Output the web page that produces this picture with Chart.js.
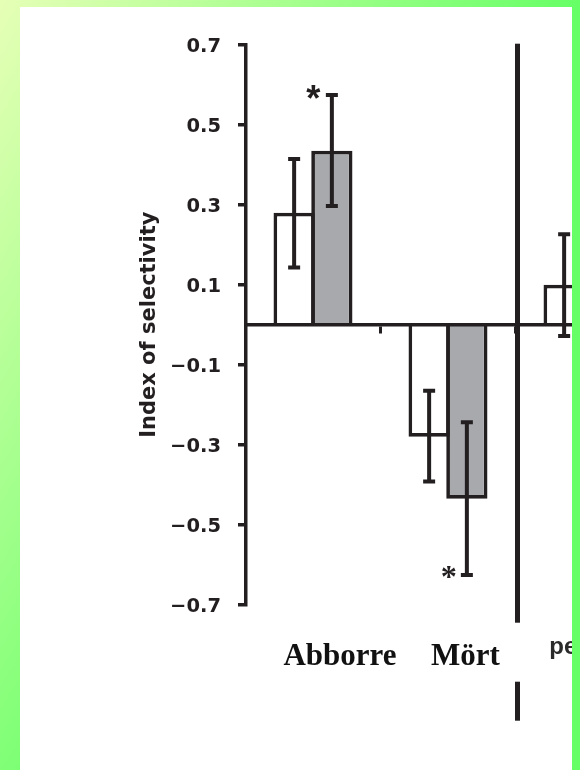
<!DOCTYPE html>
<html>
<head>
<meta charset="utf-8">
<script src="https://cdn.jsdelivr.net/npm/chart.js@4.4.1/dist/chart.umd.min.js"></script>
<style>
  html, body { margin: 0; padding: 0; }
  body {
    width: 580px; height: 770px; overflow: hidden; position: relative;
    background: linear-gradient(121deg, #e6ffb6 0%, #66ff66 56%, #66ff66 100%);
  }
  #panel {
    position: absolute; left: 20px; top: 7px; width: 552px; height: 763px;
    background: #ffffff; overflow: hidden;
  }
  #chart { position: absolute; left: -20px; top: -7px; }
</style>
</head>
<body>
<div id="panel"><canvas id="chart" width="660" height="770"></canvas></div>
<script>
// Fish groups along the x axis
const categories = ['Abborre', 'Mört', 'perch'];

// Open (white) bars: mean index with lower / upper error limits
const openValues = [0.28, -0.28, 0.10];
const openLow    = [0.143, -0.392, -0.028];
const openHigh   = [0.414, -0.165, 0.226];

// Shaded (grey) bars: mean index with lower / upper error limits
const shadedValues = [0.435, -0.435, null];
const shadedLow    = [0.297, -0.626, null];
const shadedHigh   = [0.574, -0.244, null];
const shadedSignif = ['*', '*', ''];

// Y axis
const yTickLabels = ['−0.7', '−0.5', '−0.3', '−0.1', '0.1', '0.3', '0.5', '0.7'];
const yTitle = 'Index of selectivity';

const INK = '#231f20';

// Error bars, significance stars, the panel divider and the group names
const decorPlugin = {
  id: 'decor',
  afterDatasetsDraw(chart) {
    const ctx = chart.ctx;
    const xs = chart.scales.x, ys = chart.scales.y;
    const area = chart.chartArea;

    const sets = [[0, openLow, openHigh], [1, shadedLow, shadedHigh]];
    ctx.save();
    ctx.strokeStyle = INK;
    ctx.lineWidth = 4;
    sets.forEach(([di, lo, hi]) => {
      chart.getDatasetMeta(di).data.forEach((bar, i) => {
        if (lo[i] == null || hi[i] == null) return;
        const cx = bar.x;
        const y1 = ys.getPixelForValue(lo[i]);
        const y2 = ys.getPixelForValue(hi[i]);
        ctx.beginPath();
        ctx.moveTo(cx, y1); ctx.lineTo(cx, y2);
        ctx.moveTo(cx - 6, y1); ctx.lineTo(cx + 6, y1);
        ctx.moveTo(cx - 6, y2); ctx.lineTo(cx + 6, y2);
        ctx.stroke();
      });
    });

    // significance stars beside the outer end of the shaded error bars
    const starFonts = ['"Liberation Sans"', '"Liberation Serif"'];
    chart.getDatasetMeta(1).data.forEach((bar, i) => {
      const mark = shadedSignif[i];
      if (!mark || shadedValues[i] == null) return;
      const end = shadedValues[i] >= 0 ? shadedHigh[i] : shadedLow[i];
      const ty = ys.getPixelForValue(end) - 3.5;
      const tx = bar.x - 18;
      const fam = starFonts[i % starFonts.length];
      ctx.font = 'bold 40px ' + fam;
      let m = ctx.measureText(mark);
      const gw = m.actualBoundingBoxLeft + m.actualBoundingBoxRight;
      const size = 40 * 14.5 / gw;
      ctx.font = 'bold ' + size.toFixed(1) + 'px ' + fam;
      m = ctx.measureText(mark);
      ctx.fillStyle = INK;
      ctx.textAlign = 'left';
      ctx.textBaseline = 'alphabetic';
      const w = m.actualBoundingBoxLeft + m.actualBoundingBoxRight;
      const h = m.actualBoundingBoxAscent + m.actualBoundingBoxDescent;
      ctx.fillText(mark, tx - w / 2 + m.actualBoundingBoxLeft, ty - h / 2 + m.actualBoundingBoxAscent);
    });

    // heavy divider between the two panels
    const bx = (xs.getPixelForValue(1) + xs.getPixelForValue(2)) / 2 + 2;
    ctx.fillStyle = INK;
    ctx.fillRect(bx - 2.5, area.top - 1, 5, area.bottom + 18 - area.top + 1);
    ctx.fillRect(bx - 2.5, area.bottom + 77, 5, 39);

    // group names under the bars
    const labelStyle = [
      { font: 'bold 31px "Liberation Serif"', color: '#111111', dx: 27, align: 'center', dy: 60.3 },
      { font: 'bold 31px "Liberation Serif"', color: '#111111', dx: 17.5, align: 'center', dy: 60.3 },
      { font: 'bold 24px "Liberation Sans"', color: '#2b2b2b', dx: -33.7, align: 'left', dy: 49 }
    ];
    categories.forEach((name, i) => {
      const st = labelStyle[i];
      ctx.font = st.font;
      ctx.fillStyle = st.color;
      ctx.textAlign = st.align;
      ctx.textBaseline = 'alphabetic';
      ctx.fillText(name, xs.getPixelForValue(i) + st.dx, area.bottom + st.dy);
    });
    ctx.restore();
  }
};

new Chart(document.getElementById('chart'), {
  type: 'bar',
  data: {
    labels: categories,
    datasets: [
      {
        label: 'open',
        data: openValues,
        backgroundColor: '#ffffff',
        borderColor: INK,
        borderWidth: 3.7,
        categoryPercentage: 0.559,
        barPercentage: 1.093
      },
      {
        label: 'shaded',
        data: shadedValues,
        backgroundColor: '#a7a9ac',
        borderColor: INK,
        borderWidth: 3.7,
        categoryPercentage: 0.559,
        barPercentage: 1.093
      }
    ]
  },
  options: {
    responsive: false,
    animation: false,
    devicePixelRatio: 1,
    layout: { padding: { left: 0, top: 44.7, right: 9.5, bottom: 165.3 } },
    plugins: { legend: { display: false }, tooltip: { enabled: false }, title: { display: false } },
    scales: {
      x: {
        type: 'category',
        position: { y: 0 },
        offset: true,
        grid: { offset: true, drawOnChartArea: false, drawTicks: true, tickLength: 7, color: INK, lineWidth: 3, z: 1 },
        border: { display: true, color: INK, width: 3.5, z: 1 },
        ticks: { display: false }
      },
      y: {
        min: -0.7,
        max: 0.7,
        afterFit: (s) => { s.width = 245.5; },
        ticks: {
          stepSize: 0.2,
          padding: 17,
          labelOffset: 2.5,
          color: INK,
          font: { family: 'DejaVu Sans', weight: 'bold', size: 19.5 },
          callback: (v, i) => yTickLabels[i]
        },
        grid: { drawOnChartArea: false, drawTicks: true, tickLength: 7.5, color: INK, lineWidth: 3.5 },
        border: { display: true, color: INK, width: 3.5 },
        title: {
          display: true,
          text: yTitle,
          color: INK,
          font: { family: 'DejaVu Sans', weight: 'bold', size: 21 },
          padding: { top: 137.4, bottom: 0 }
        }
      }
    }
  },
  plugins: [decorPlugin]
});
</script>
</body>
</html>
